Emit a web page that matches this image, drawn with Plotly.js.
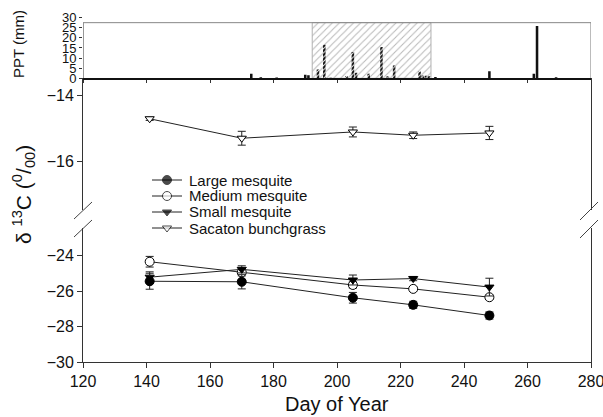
<!DOCTYPE html>
<html>
<head>
<meta charset="utf-8">
<script src="https://cdn.plot.ly/plotly-3.0.1.min.js"></script>
<style>html,body{margin:0;padding:0;background:#fff;}#chart{width:603px;height:417px;}</style>
</head>
<body>
<div id="chart"></div>
<script>
// ---------- data ----------
const days = [141, 170, 205, 224, 248];
const largeMesquite  = [-25.45, -25.48, -26.38, -26.78, -27.38];
const largeErr       = [0.45, 0.40, 0.30, 0.20, 0.20];
const mediumMesquite = [-24.35, -24.95, -25.66, -25.88, -26.35];
const mediumErr      = [0.30, 0.20, 0.18, 0.10, 0.10];
const smallMesquite  = [-25.22, -24.78, -25.38, -25.30, -25.78];
const smallErr       = [0.30, 0.20, 0.28, 0.12, 0.50];
const sacaton        = [-14.72, -15.31, -15.12, -15.22, -15.15];
const sacatonErr     = [0.05, 0.21, 0.15, 0.10, 0.20];
const seriesNames = ["Large mesquite", "Medium mesquite", "Small mesquite", "Sacaton bunchgrass"];

const pptDays = [173, 176, 181, 190, 191, 194, 196, 198, 203, 205, 206, 210, 214, 216, 218, 226, 227, 228, 229, 231, 248, 262, 263, 269];
const pptVals = [2.2, 0.5, 0.4, 1.7, 1.5, 4.3, 16.6, 0.3, 1.1, 13.0, 2.8, 2.3, 15.5, 1.0, 6.3, 3.4, 1.4, 1.2, 1.0, 0.7, 3.5, 2.2, 25.9, 0.5];
const wetPeriod = [192.2, 229.6];

const xTicks = [120, 140, 160, 180, 200, 220, 240, 260, 280];
const pptTicks = [0, 5, 10, 15, 20, 25, 30];
const upperTicks = [-14, -16];
const lowerTicks = [-24, -26, -28, -30];

// ---------- layout geometry (pixels) ----------
const W = 603, H = 417, L = 83, R = 591;
const px = x => (x - L) / (R - L);
const py = y => 1 - y / H;
const PPT_TOP = 27.5;
const FONT = "Liberation Sans, Arial, sans-serif";
const AX = "#333";

const inWet = d => d >= wetPeriod[0] && d <= wetPeriod[1];
const wetX = [], wetY = [], dryX = [], dryY = [];
pptDays.forEach((d, i) => { if (inWet(d)) { wetX.push(d); wetY.push(pptVals[i]); } else { dryX.push(d); dryY.push(pptVals[i]); } });

const traces = [];
// wet period hatched box
traces.push({
  type: "bar", x: [(wetPeriod[0] + wetPeriod[1]) / 2], y: [PPT_TOP], width: [wetPeriod[1] - wetPeriod[0]],
  xaxis: "x2", yaxis: "y3", showlegend: false, hoverinfo: "skip",
  marker: { color: "white", line: { color: "#b0b0b0", width: 1 },
    pattern: { shape: "/", fgcolor: "#b8b8b8", bgcolor: "white", size: 5, solidity: 0.2 } }
});
traces.push({
  type: "bar", x: dryX, y: dryY, width: 0.8, xaxis: "x2", yaxis: "y3", showlegend: false,
  marker: { color: "#111", line: { width: 0 } }
});
traces.push({
  type: "bar", x: wetX, y: wetY, width: 0.8, xaxis: "x2", yaxis: "y3", showlegend: false,
  marker: { color: "#111", line: { width: 0 },
    pattern: { shape: "/", fgcolor: "white", bgcolor: "#111", size: 3, solidity: 0.3 } }
});

const styles = {
  "Large mesquite":     { symbol: "circle", size: 9, color: "black" },
  "Medium mesquite":    { symbol: "circle", size: 9, color: "white" },
  "Small mesquite":     { symbol: "triangle-down", size: 8, color: "black" },
  "Sacaton bunchgrass": { symbol: "triangle-down", size: 8, color: "white" }
};
function series(name, y, err, yaxis) {
  const s = styles[name];
  return {
    type: "scatter", mode: "lines+markers", name: name, x: days, y: y, yaxis: yaxis, xaxis: "x",
    showlegend: false, cliponaxis: false,
    line: { color: "#222", width: 1 },
    marker: { symbol: s.symbol, size: s.size, color: s.color, line: { color: "black", width: 1 } },
    error_y: { type: "data", array: err, visible: true, color: "#222", thickness: 1, width: 4 }
  };
}
traces.push(series("Medium mesquite", mediumMesquite, mediumErr, "y"));
traces.push(series("Small mesquite", smallMesquite, smallErr, "y"));
traces.push(series("Large mesquite", largeMesquite, largeErr, "y"));
traces.push(series("Sacaton bunchgrass", sacaton, sacatonErr, "y2"));

// legend keys (pixel-space overlay axes)
const LEG = { x0: 152, x1: 182, textX: 187, rows: [180, 196, 212, 228] };
const annotations = [];
seriesNames.forEach((n, i) => {
  const s = styles[n];
  const yy = LEG.rows[i];
  traces.push({
    type: "scatter", mode: "lines+markers", x: [LEG.x0, (LEG.x0 + LEG.x1) / 2, LEG.x1], y: [yy, yy, yy],
    xaxis: "x4", yaxis: "y4", showlegend: false, hoverinfo: "skip",
    line: { color: "#222", width: 1 },
    marker: { symbol: s.symbol, size: [0, s.size, 0], color: s.color, line: { color: "black", width: [0, 1, 0] } }
  });
  annotations.push({ xref: "paper", yref: "paper", x: px(LEG.textX), y: py(yy), xanchor: "left", yanchor: "middle",
    text: n, showarrow: false, font: { family: FONT, size: 15, color: "#111" } });
});

annotations.push({ xref: "paper", yref: "paper", x: px(18), y: py(44), text: "PPT (mm)", textangle: -90,
  showarrow: false, xanchor: "center", yanchor: "middle", font: { family: FONT, size: 15, color: "#111" } });
annotations.push({ xref: "paper", yref: "paper", x: px(23), y: py(195),
  text: "δ <sup>13</sup>C (<sup>0</sup>/<sub>00</sub>)", textangle: -90,
  showarrow: false, xanchor: "center", yanchor: "middle", font: { family: FONT, size: 21, color: "#111" } });
annotations.push({ xref: "paper", yref: "paper", x: 0.5, y: py(404), text: "Day of Year",
  showarrow: false, xanchor: "center", yanchor: "middle", font: { family: FONT, size: 20, color: "#111" } });

const shapes = [
  // PPT frame
  { type: "line", xref: "x2", yref: "y3", x0: 120, x1: 120, y0: 0, y1: PPT_TOP, line: { color: AX, width: 1 } },
  { type: "line", xref: "x2", yref: "y3", x0: 120, x1: 280, y0: PPT_TOP, y1: PPT_TOP, line: { color: "#888", width: 1 } },
  { type: "line", xref: "x2", yref: "y3", x0: 280, x1: 280, y0: 0, y1: PPT_TOP, line: { color: "#777", width: 1 } }
];
// axis break marks
[[74, 219, 92, 202], [74, 237, 92, 220], [580, 220, 598, 202], [580, 238, 598, 220]].forEach(s => {
  shapes.push({ type: "line", xref: "paper", yref: "paper", x0: px(s[0]), y0: py(s[1]), x1: px(s[2]), y1: py(s[3]),
    line: { color: "#444", width: 1 } });
});

const tickfont = { family: FONT, size: 16, color: "#111" };
const layout = {
  width: W, height: H,
  margin: { l: L, r: W - R, t: 0, b: 0, pad: 0 },
  paper_bgcolor: "white", plot_bgcolor: "rgba(0,0,0,0)",
  showlegend: false, barmode: "overlay",
  font: { family: FONT, color: "#111" },
  xaxis: { domain: [0, 1], range: [120, 280], anchor: "y", tickvals: xTicks, ticks: "outside", ticklen: 5,
    tickcolor: AX, showline: true, linecolor: AX, linewidth: 1, showgrid: false, zeroline: false,
    tickfont: tickfont, automargin: false, ticklabeloverflow: "allow" },
  xaxis2: { domain: [0, 1], range: [120, 280], anchor: "y3", matches: "x", tickvals: xTicks, ticks: "outside",
    ticklen: 3, tickcolor: AX, showticklabels: false, showline: true, linecolor: "#111", linewidth: 2,
    showgrid: false, zeroline: false, automargin: false },
  xaxis4: { domain: [0, 1], range: [L, R], anchor: "y4", visible: false, fixedrange: true },
  yaxis4: { domain: [0, 1], range: [H, 0], anchor: "x4", visible: false, fixedrange: true },
  yaxis: { domain: [py(362), py(228)], range: [-30, -22.45], anchor: "x", tickvals: lowerTicks,
    ticks: "outside", ticklen: 5, tickcolor: AX, showline: true, mirror: true, linecolor: AX, linewidth: 1,
    showgrid: false, zeroline: false, tickfont: tickfont, automargin: false },
  yaxis2: { domain: [py(210), py(78.3)], range: [-17.485, -13.494], anchor: "x", tickvals: upperTicks,
    ticks: "outside", ticklen: 5, tickcolor: AX, showline: true, mirror: true, linecolor: AX, linewidth: 1,
    showgrid: false, zeroline: false, tickfont: tickfont, automargin: false },
  yaxis3: { domain: [py(78.3), py(17.6)], range: [0, 30], anchor: "x2", tickvals: pptTicks,
    ticks: "outside", ticklen: 3, tickcolor: AX, showline: false, showgrid: false, zeroline: false,
    tickfont: { family: FONT, size: 13, color: "#111" }, automargin: false },
  annotations: annotations,
  shapes: shapes
};

Plotly.newPlot("chart", traces, layout, { displayModeBar: false, staticPlot: true });
</script>
</body>
</html>
